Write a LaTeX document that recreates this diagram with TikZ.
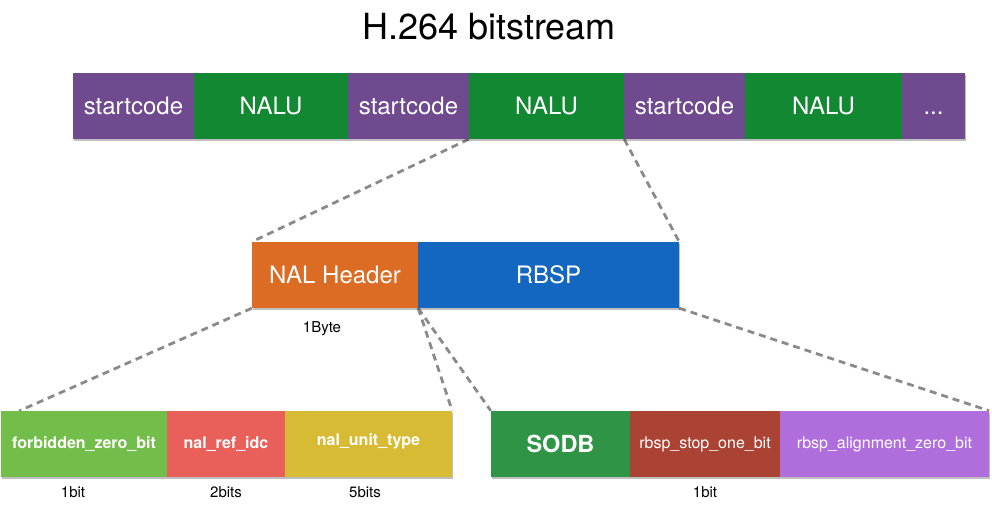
\documentclass[tikz,border=0pt]{standalone}
\usepackage{fontspec}
\setmainfont{TeX Gyre Heros}
\usetikzlibrary{shadows,backgrounds}
\definecolor{scpurple}{HTML}{6F4A8E}
\definecolor{nalgreen}{HTML}{138833}
\definecolor{hdrorange}{HTML}{DC6B24}
\definecolor{rbspblue}{HTML}{1467C0}
\definecolor{fzbgreen}{HTML}{73BE4B}
\definecolor{nricoral}{HTML}{E9605B}
\definecolor{nutyellow}{HTML}{D8BB35}
\definecolor{sodbgreen}{HTML}{2F9445}
\definecolor{stopred}{HTML}{AB4335}
\definecolor{alignlav}{HTML}{B06EDD}
\definecolor{dashgray}{HTML}{8A8A8A}
\tikzset{
  box/.style={fill=#1, draw=none, inner sep=0pt, minimum height=66pt, text=white,
    drop shadow={shadow xshift=1pt, shadow yshift=-2pt, opacity=0.25, fill=black}},
  bigtxt/.style={font=\fontsize{24}{28}\selectfont},
  smalltxt/.style={font=\fontsize{16}{19}\selectfont},
  boldtxt/.style={font=\bfseries\fontsize{16}{19}\selectfont},
  lbl/.style={font=\fontsize{15}{18}\selectfont, text=black, inner sep=0pt},
  conn/.style={draw=dashgray, line width=2.8pt, dash pattern=on 7pt off 5pt}
}
\begin{document}
\begin{tikzpicture}[x=1pt,y=-1pt]
\useasboundingbox (0,0) rectangle (992,505);
\node[font=\fontsize{36}{40}\selectfont, anchor=base, inner sep=0pt] (title) at (489,40) {H.264 bitstream};
% top bar
\node[box=scpurple, bigtxt, minimum width=121pt] (s1) at (133.5,106) {startcode};
\node[box=nalgreen, bigtxt, minimum width=154pt] (n1) at (271,106) {NALU};
\node[box=scpurple, bigtxt, minimum width=121pt] (s2) at (408.5,106) {startcode};
\node[box=nalgreen, bigtxt, minimum width=155pt] (n2) at (546.5,106) {NALU};
\node[box=scpurple, bigtxt, minimum width=121pt] (s3) at (684.5,106) {startcode};
\node[box=nalgreen, bigtxt, minimum width=157pt] (n3) at (823.5,106) {NALU};
\node[box=scpurple, bigtxt, minimum width=63pt] (dots) at (933.5,106) {\vphantom{N}.{}.{}.};
% middle
\node[box=hdrorange, bigtxt, minimum width=166pt] (hdr) at (335,275) {NAL Header};
\node[box=rbspblue, bigtxt, minimum width=261pt] (rbsp) at (548.5,275) {RBSP};
\node[lbl] (byte) at (322,329) {1Byte};
% bottom left
\node[box=fzbgreen, boldtxt, minimum width=166pt] (fzb) at (84,444) {forbidden\_zero\_bit};
\node[box=nricoral, boldtxt, minimum width=118pt] (nri) at (226,444) {nal\_ref\_idc};
\node[box=nutyellow, boldtxt, minimum width=167pt] (nut) at (368.5,444) {};
\node[boldtxt, text=white] (nuttxt) at (368.5,441) {nal\_unit\_type};
% bottom right
\node[box=sodbgreen, font=\bfseries\fontsize{23.5}{27}\selectfont, minimum width=139pt] (sodb) at (560.5,444) {SODB};
\node[box=stopred, smalltxt, minimum width=150pt] (stop) at (705,444) {rbsp\_stop\_one\_bit};
\node[box=alignlav, smalltxt, minimum width=209pt] (align) at (884.5,444) {rbsp\_alignment\_zero\_bit};
% labels
\node[lbl] (b1) at (73,492) {1bit};
\node[lbl] (b2) at (226,492) {2bits};
\node[lbl] (b5) at (365,492) {5bits};
\node[lbl] (b1r) at (705,492) {1bit};
\coordinate (fzend) at (19,411);
\begin{scope}[on background layer]
\draw[conn] (n2.south west) -- (hdr.north west);
\draw[conn] (n2.south east) -- (rbsp.north east);
\draw[conn] (hdr.south west) -- (fzend);
\draw[conn] (hdr.south east) -- (nut.north east);
\draw[conn] (hdr.south east) -- (sodb.north west);
\draw[conn] (rbsp.south east) -- (align.north east);
\end{scope}
\end{tikzpicture}
\end{document}
